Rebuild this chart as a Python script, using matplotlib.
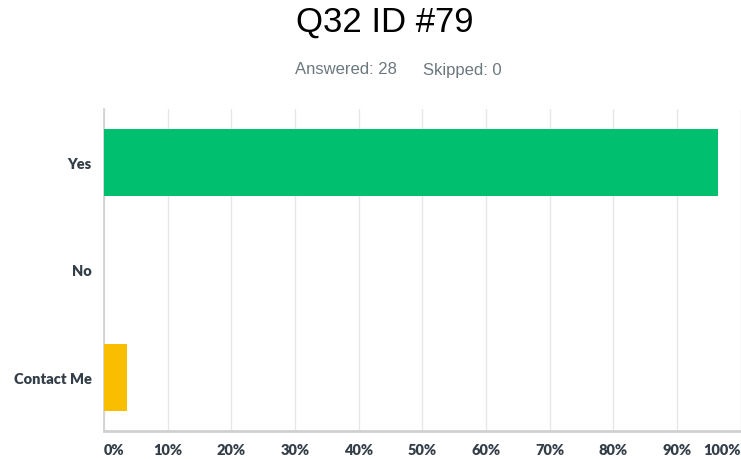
import numpy as np
import matplotlib.pyplot as plt

categories = ["Yes", "No", "Contact Me"]
percent = [96.43, 0.0, 3.57]
colors = ["#00BF6F", "#00BF6F", "#F9BE00"]
ticks = [0, 10, 20, 30, 40, 50, 60, 70, 80, 90, 100]
tick_labels = ["0%", "10%", "20%", "30%", "40%", "50%", "60%", "70%", "80%", "90%", "100%"]
answered = 28
skipped = 0

fig = plt.figure(figsize=(7.41, 4.60), dpi=100)
ax = fig.add_axes([104 / 741, 28 / 460, 636.5 / 741, 322 / 460])

y = np.arange(len(categories))
ax.barh(y, percent, height=0.63, color=colors, zorder=3)

ax.set_ylim(2.5, -0.5)
ax.set_xlim(0, 100)
ax.set_xticks(ticks)
ax.set_xticklabels(tick_labels)
ax.set_yticks(y)
ax.set_yticklabels(categories)

ax.grid(axis="x", color="#e6e6e6", linewidth=1, zorder=0)
ax.tick_params(axis="x", length=0, pad=9)
ax.tick_params(axis="y", length=0, pad=9)
for lab in ax.get_xticklabels():
    lab.set_fontfamily("Lato")
    lab.set_fontweight("heavy")
    lab.set_fontsize(10.5)
    lab.set_color("#333e48")
for lab in ax.get_yticklabels():
    lab.set_fontfamily("Lato")
    lab.set_fontweight("heavy")
    lab.set_fontsize(10.5)
    lab.set_color("#333e48")
xl = ax.get_xticklabels()
xl[0].set_horizontalalignment("left")
xl[-1].set_horizontalalignment("right")

for s in ["top", "right"]:
    ax.spines[s].set_visible(False)
ax.spines["left"].set_color("#d0d0d0")
ax.spines["left"].set_linewidth(1.2)
ax.spines["bottom"].set_color("#d0d0d0")
ax.spines["bottom"].set_linewidth(2)

fig.text(385 / 741, 1 - 22 / 460, "Q32 ID #79", ha="center", va="center",
         fontsize=25, family="Liberation Sans", color="#000000")
fig.text(295 / 741, 1 - 70 / 460, "Answered: %d" % answered, ha="left", va="center",
         fontsize=12, family="Liberation Sans", color="#6b787f")
fig.text(502 / 741, 1 - 70 / 460, "Skipped: %d" % skipped, ha="right", va="center",
         fontsize=12, family="Liberation Sans", color="#6b787f")

fig.savefig("out.png", dpi=100)
